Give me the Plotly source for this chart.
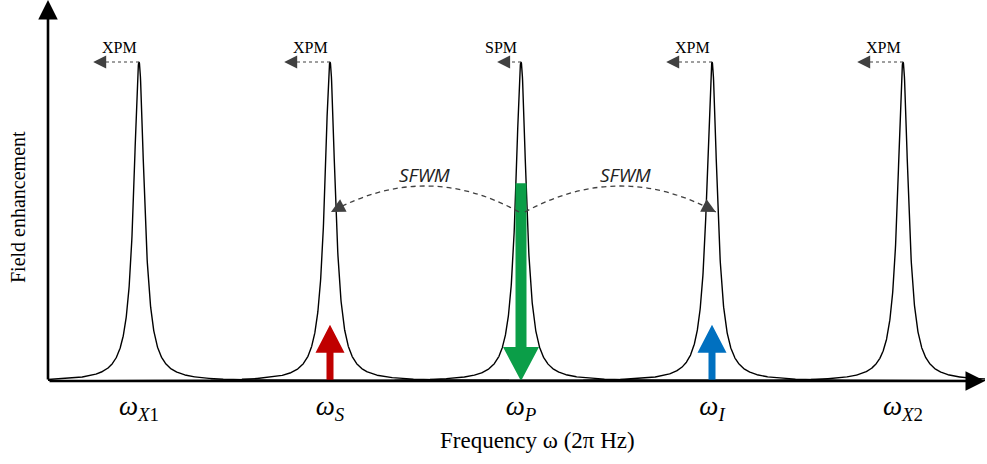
import numpy as np
import plotly.graph_objects as go

# ---- data ----
peak_centers = [-2, -1, 0, 1, 2]
peak_heights = [1.0, 1.0, 1.0, 1.0, 1.0]
peak_width = 0.0335
peak_labels = ["<i>ω</i><sub><i>X</i>1</sub>", "<i>ω<sub>S</sub></i>", "<i>ω<sub>P</sub></i>",
               "<i>ω<sub>I</sub></i>", "<i>ω</i><sub><i>X</i>2</sub>"]
phase_labels = ["XPM", "XPM", "SPM", "XPM", "XPM"]
phase_arrow_len = [0.24, 0.24, 0.125, 0.24, 0.24]

pump_center, pump_top = 0, 0.62
signal_center, signal_top = -1, 0.176
idler_center, idler_top = 1, 0.176

sfwm_labels = ["SFWM", "SFWM"]

# ---- geometry helpers ----
W, H = 987, 464
ML, MR, MT, MB = 48, 2, 0, 83
XS, YS = 191.0, 319.0          # px per data unit
xmin, xmax = -473 / XS, 464 / XS
ymin, ymax = 0.0, 381 / YS


def px_to_paper(xp, yp):
    return (xp - ML) / (W - ML - MR), (H - MB - yp) / (H - MT - MB)


fig = go.Figure()

xs = np.linspace(xmin, xmax, 5000)
xs = np.unique(np.concatenate([xs, peak_centers]))
for c, h in zip(peak_centers, peak_heights):
    y = h / (1 + ((xs - c) / peak_width) ** 2)
    fig.add_trace(go.Scatter(x=xs, y=y, mode="lines", line=dict(color="black", width=1.4),
                             hoverinfo="skip", showlegend=False))


def up_arrow(c, top, shaft_px, head_px, head_len_px, color, down=False):
    sw = shaft_px / 2 / XS
    hw = head_px / 2 / XS
    hl = head_len_px / YS
    if not down:
        base = top - hl
        px = [c - sw, c - sw, c - hw, c, c + hw, c + sw, c + sw, c - sw]
        py = [0, base, base, top, base, base, 0, 0]
    else:
        base = hl
        px = [c - sw, c - sw, c - hw, c, c + hw, c + sw, c + sw, c - sw]
        py = [top, base, base, 0, base, base, top, top]
    fig.add_trace(go.Scatter(x=px, y=py, mode="lines", fill="toself", fillcolor=color,
                             line=dict(color=color, width=0), hoverinfo="skip", showlegend=False))


up_arrow(pump_center, pump_top, 11, 36, 34, "#0B9E48", down=True)
up_arrow(signal_center, signal_top, 7, 29, 28, "#C00000")
up_arrow(idler_center, idler_top, 7, 29, 28, "#0070C0")

annotations = []
shapes = []

# axes arrows
annotations.append(dict(x=xmax, y=0, ax=xmin, ay=0, xref="x", yref="y", axref="x", ayref="y",
                        showarrow=True, arrowhead=2, arrowsize=1.5, arrowwidth=2.6, arrowcolor="black", text=""))
annotations.append(dict(x=xmin, y=ymax, ax=xmin, ay=0, xref="x", yref="y", axref="x", ayref="y",
                        showarrow=True, arrowhead=2, arrowsize=1.5, arrowwidth=2.6, arrowcolor="black", text=""))

dash_col = "#404040"
# XPM / SPM labels with dashed arrows
for c, h, lab, L in zip(peak_centers, peak_heights, phase_labels, phase_arrow_len):
    annotations.append(dict(x=c - 20 / XS, y=h + 15 / YS, xref="x", yref="y", text=lab, showarrow=False,
                            xanchor="center", yanchor="middle",
                            font=dict(family="Liberation Serif", size=16, color="black")))
    tip = c - L
    shapes.append(dict(type="line", xref="x", yref="y", x0=c, y0=h, x1=tip + 4 / XS, y1=h,
                       line=dict(color=dash_col, width=1.2, dash="3px,3px")))
    annotations.append(dict(x=tip, y=h, ax=tip + 10 / XS, ay=h, xref="x", yref="y", axref="x", ayref="y",
                            showarrow=True, arrowhead=2, arrowsize=2.6, arrowwidth=1.0,
                            arrowcolor=dash_col, text=""))

# SFWM arcs
end_y = (381 - 212) / YS
apex_y = (381 - 186) / YS
ctrl_y = 2 * apex_y - end_y
arcs = [(pump_center - 0.01, signal_center + 0.005), (pump_center + 0.02, idler_center + 0.02)]
label_shift = [-0.005, 0.025]
for (s, e), lab, sh in zip(arcs, sfwm_labels, label_shift):
    cx = (s + e) / 2
    shapes.append(dict(type="path", xref="x", yref="y",
                       path=f"M {s},{end_y} Q {cx},{ctrl_y} {e},{end_y}",
                       line=dict(color=dash_col, width=1.3, dash="5px,4px")))
    t = 0.95
    bx = (1 - t) ** 2 * s + 2 * (1 - t) * t * cx + t ** 2 * e
    by = (1 - t) ** 2 * end_y + 2 * (1 - t) * t * ctrl_y + t ** 2 * end_y
    annotations.append(dict(x=e, y=end_y, ax=bx, ay=by, xref="x", yref="y", axref="x", ayref="y",
                            showarrow=True, arrowhead=2, arrowsize=2.8, arrowwidth=1.0,
                            arrowcolor=dash_col, text=""))
    annotations.append(dict(x=cx + sh, y=(381 - 175) / YS, xref="x", yref="y",
                            xanchor="center", yanchor="middle",
                            text=f"<i>{lab}</i>", showarrow=False,
                            font=dict(family="Open Sans", size=19, color="#222222")))

# axis titles
tx, ty = px_to_paper(537, 440)
annotations.append(dict(x=tx, y=ty, xref="paper", yref="paper", xanchor="center", yanchor="middle",
                        text="Frequency ω (2π Hz)", showarrow=False,
                        font=dict(family="Liberation Serif", size=23, color="black")))
yx, yy = px_to_paper(18, 207)
annotations.append(dict(x=yx, y=yy, xref="paper", yref="paper", xanchor="center", yanchor="middle",
                        text="Field enhancement", showarrow=False, textangle=-90,
                        font=dict(family="Liberation Serif", size=20, color="black")))

fig.update_layout(
    width=W, height=H,
    margin=dict(l=ML, r=MR, t=MT, b=MB, autoexpand=False),
    paper_bgcolor="white", plot_bgcolor="white",
    showlegend=False,
    annotations=annotations, shapes=shapes,
    xaxis=dict(range=[xmin, xmax], showgrid=False, zeroline=False, showline=False, ticks="",
               tickvals=peak_centers, ticktext=peak_labels, ticklabelstandoff=6, automargin=False,
               tickfont=dict(family="Liberation Serif", size=27, color="black"), fixedrange=True),
    yaxis=dict(range=[ymin, ymax], showgrid=False, zeroline=False, showline=False, automargin=False,
               showticklabels=False, ticks="", fixedrange=True),
)

fig.write_html("out.html", config={"displayModeBar": False},
               post_script="document.body.style.margin='0px';document.body.style.overflow='hidden';")
